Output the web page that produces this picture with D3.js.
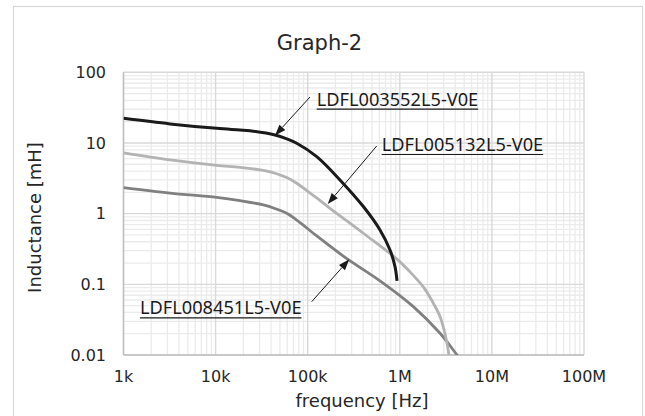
<!DOCTYPE html>
<html><head><meta charset="utf-8">
<script src="https://cdn.jsdelivr.net/npm/d3@7"></script>
<style>
html,body{margin:0;padding:0;background:#fff;}
svg{display:block;}
text{font-family:"DejaVu Sans",Verdana,sans-serif;fill:#262626;}
.lbl{font-family:"Noto Sans","Open Sans",sans-serif;fill:#1a1a1a;}
</style></head><body>
<script>
// ---- data ----
const title = "Graph-2";
const xTickValues = [1e3, 1e4, 1e5, 1e6, 1e7, 1e8];
const xTickLabels = ["1k", "10k", "100k", "1M", "10M", "100M"];
const yTickValues = [0.01, 0.1, 1, 10, 100];
const yTickLabels = ["0.01", "0.1", "1", "10", "100"];
const seriesNames = ["LDFL003552L5-V0E", "LDFL005132L5-V0E", "LDFL008451L5-V0E"];
// frequency [Hz], inductance [mH]
const ldfl003552 = [[1000,22.3],[3199,18.6],[10280,16.1],[18400,15.3],[23600,14.9],[44150,13.0],[57500,11.6],[76000,9.91],[125300,6.40],[223900,3.0],[401800,1.26],[609500,0.588],[783000,0.306],[887000,0.178],[933000,0.112]];
const ldfl005132 = [[1000,7.22],[3199,5.75],[10280,4.81],[18400,4.53],[33000,4.08],[46000,3.67],[60000,3.21],[76000,2.69],[97700,2.12],[125300,1.67],[174600,1.19],[401800,0.528],[924700,0.229],[1291000,0.150],[1800000,0.0918],[2239000,0.0582],[2735000,0.0349],[3097000,0.0199],[3373000,0.0111],[3508000,0.0072]];
const ldfl008451 = [[1000,2.33],[3199,1.95],[10280,1.70],[18400,1.53],[33000,1.33],[44700,1.175],[59200,1.01],[83200,0.741],[115100,0.528],[247700,0.247],[609500,0.112],[1403000,0.0484],[2735000,0.0203],[4315000,0.0095],[4977000,0.0075]];

// ---- layout ----
const W = 645, H = 416;
const m = {left: 123.5, right: 584, top: 72.3, bottom: 355};
const svg = d3.select("body").append("svg").attr("width", W).attr("height", H);
svg.append("rect").attr("x", 0).attr("y", 0).attr("width", W).attr("height", H).attr("fill", "#fff");
svg.append("rect").attr("x", 13.5).attr("y", 6.5).attr("width", 629).attr("height", 430)
  .attr("fill", "none").attr("stroke", "#d9d9d9").attr("stroke-width", 1.2);

const x = d3.scaleLog().domain([1e3, 1e8]).range([m.left, m.right]);
const y = d3.scaleLog().domain([0.01, 100]).range([m.bottom, m.top]);

// grid
const minorX = [], minorY = [];
for (let e = 3; e < 8; e++) for (let k = 2; k <= 9; k++) minorX.push(k * Math.pow(10, e));
for (let e = -2; e < 2; e++) for (let k = 2; k <= 9; k++) minorY.push(k * Math.pow(10, e));
const g = svg.append("g");
g.selectAll(".mx").data(minorX).join("line")
  .attr("x1", d => x(d)).attr("x2", d => x(d)).attr("y1", m.top).attr("y2", m.bottom)
  .attr("stroke", "#ebebeb").attr("stroke-width", 1.3);
g.selectAll(".my").data(minorY).join("line")
  .attr("y1", d => y(d)).attr("y2", d => y(d)).attr("x1", m.left).attr("x2", m.right)
  .attr("stroke", "#ebebeb").attr("stroke-width", 1.3);
g.selectAll(".Mx").data(xTickValues).join("line")
  .attr("x1", d => x(d)).attr("x2", d => x(d)).attr("y1", m.top).attr("y2", m.bottom)
  .attr("stroke", "#d9d9d9").attr("stroke-width", 1.4);
g.selectAll(".My").data(yTickValues).join("line")
  .attr("y1", d => y(d)).attr("y2", d => y(d)).attr("x1", m.left).attr("x2", m.right)
  .attr("stroke", "#d9d9d9").attr("stroke-width", 1.4);
// axis lines
g.append("line").attr("x1", m.left).attr("x2", m.left).attr("y1", m.top).attr("y2", m.bottom)
  .attr("stroke", "#bfbfbf").attr("stroke-width", 1.5);
g.append("line").attr("x1", m.left).attr("x2", m.right).attr("y1", m.bottom).attr("y2", m.bottom)
  .attr("stroke", "#bfbfbf").attr("stroke-width", 1.5);

// tick labels
svg.selectAll(".xt").data(xTickValues).join("text")
  .attr("x", d => x(d)).attr("y", 382).attr("text-anchor", "middle")
  .attr("font-size", 16).text((d, i) => xTickLabels[i]);
svg.selectAll(".yt").data(yTickValues).join("text")
  .attr("x", 106).attr("y", d => y(d)).attr("dy", "0.36em").attr("text-anchor", "end")
  .attr("font-size", 16).text((d, i) => yTickLabels[i]);

// titles
svg.append("text").attr("x", 319.5).attr("y", 50).attr("text-anchor", "middle")
  .attr("font-size", 21).text(title);
svg.append("text").attr("x", 362).attr("y", 407).attr("text-anchor", "middle")
  .attr("font-size", 18).text("frequency [Hz]");
svg.append("text").attr("transform", "translate(41,217.5) rotate(-90)").attr("text-anchor", "middle")
  .attr("font-size", 18).text("Inductance [mH]");

// curves
svg.append("clipPath").attr("id", "clip").append("rect")
  .attr("x", m.left).attr("y", m.top).attr("width", m.right - m.left).attr("height", m.bottom - m.top);
const line = d3.line().x(d => x(d[0])).y(d => y(d[1])).curve(d3.curveCatmullRom.alpha(0.5));
const series = [
  {data: ldfl008451, color: "#808080", w: 2.8},
  {data: ldfl005132, color: "#b3b3b3", w: 2.8},
  {data: ldfl003552, color: "#1a1a1a", w: 3}
];
const cg = svg.append("g").attr("clip-path", "url(#clip)");
cg.selectAll("path").data(series).join("path")
  .attr("d", d => line(d.data)).attr("fill", "none")
  .attr("stroke", d => d.color).attr("stroke-width", d => d.w).attr("stroke-linecap", "butt");

// annotations
const ann = [
  {name: seriesNames[0], tx: 316.7, ty: 105.7, from: [310, 97], to: [275, 135.5]},
  {name: seriesNames[1], tx: 381.7, ty: 151, from: [376.7, 146], to: [327.7, 204]},
  {name: seriesNames[2], tx: 140, ty: 314.3, from: [311.7, 301.7], to: [349.3, 259.3]}
];
const labelW = 161.5;
ann.forEach(a => {
  svg.append("text").attr("class", "lbl").attr("x", a.tx).attr("y", a.ty)
    .attr("font-size", 17.5).attr("textLength", labelW).attr("lengthAdjust", "spacingAndGlyphs")
    .text(a.name);
  svg.append("line").attr("x1", a.tx).attr("x2", a.tx + labelW).attr("y1", a.ty + 3.5).attr("y2", a.ty + 3.5)
    .attr("stroke", "#1a1a1a").attr("stroke-width", 1.2);
  const dx = a.to[0] - a.from[0], dy = a.to[1] - a.from[1];
  const len = Math.hypot(dx, dy), ux = dx / len, uy = dy / len;
  const hl = 11, hw = 4;
  const bx = a.to[0] - ux * hl, by = a.to[1] - uy * hl;
  svg.append("line").attr("x1", a.from[0]).attr("y1", a.from[1]).attr("x2", bx).attr("y2", by)
    .attr("stroke", "#1a1a1a").attr("stroke-width", 1);
  svg.append("path").attr("d", `M${a.to[0]},${a.to[1]}L${bx - uy * hw},${by + ux * hw}L${bx + uy * hw},${by - ux * hw}Z`)
    .attr("fill", "#1a1a1a");
});
</script>
</body></html>
